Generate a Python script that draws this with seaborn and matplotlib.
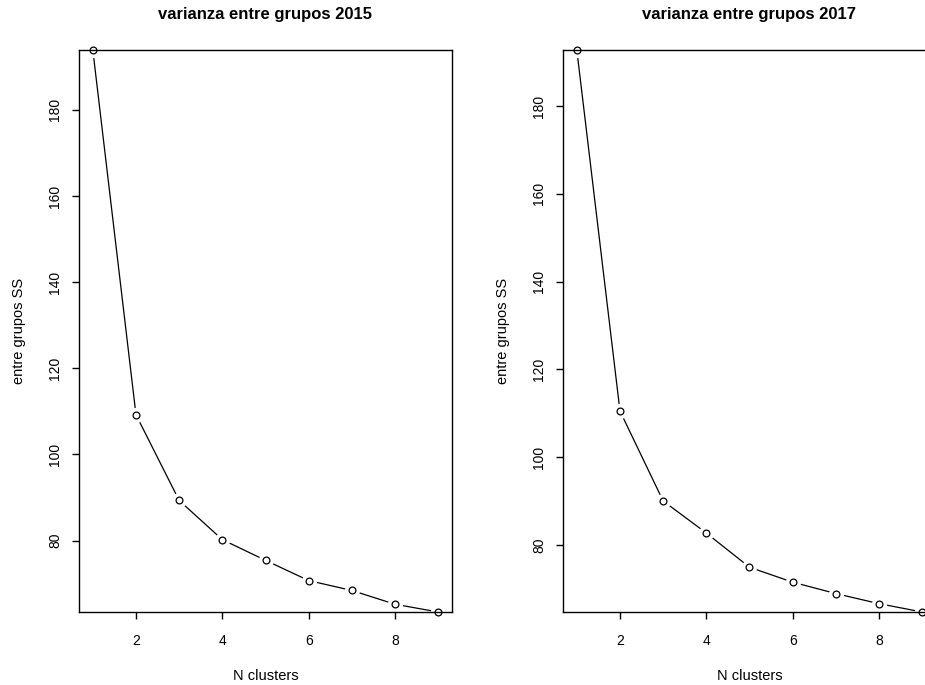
import matplotlib

matplotlib.use("Agg")

import matplotlib.pyplot as plt
import numpy as np
import pandas as pd
import seaborn as sns

# elbow data
n_clusters = [1, 2, 3, 4, 5, 6, 7, 8, 9]
ss_2015 = [193.9, 109.2, 89.3, 80.2, 75.4, 70.7, 68.4, 65.2, 63.4]
ss_2017 = [192.8, 110.5, 90.0, 82.7, 74.9, 71.5, 68.9, 66.6, 64.7]
titles = ["varianza entre grupos 2015", "varianza entre grupos 2017"]
x_ticks = [2, 4, 6, 8]
y_ticks = [80, 100, 120, 140, 160, 180]

W, H = 925, 685


def set_theme() -> None:
    sns.set_theme(style="ticks")
    plt.rcParams.update(
        {
            "font.family": ["Liberation Sans", "DejaVu Sans"],
            "axes.edgecolor": "black",
            "axes.linewidth": 1.0,
            "xtick.color": "black",
            "ytick.color": "black",
            "xtick.major.size": 5,
            "ytick.major.size": 5,
            "xtick.major.width": 1.0,
            "ytick.major.width": 1.0,
            "xtick.labelsize": 10,
            "ytick.labelsize": 10,
            "text.color": "black",
            "axes.labelcolor": "black",
        }
    )


def panel(fig, left_px: float, values: list, title: str) -> None:
    x0 = left_px / W
    ax = fig.add_axes([x0, (H - 612) / H, 373 / W, 562 / H])
    df = pd.DataFrame({"k": n_clusters, "ss": values})
    sns.lineplot(data=df, x="k", y="ss", ax=ax, color="black", linewidth=0.9, zorder=2)
    # white halo gives the R "type = b" gaps around each point
    ax.plot(df["k"], df["ss"], "o", ms=10, mfc="white", mec="white", zorder=3, clip_on=False)
    sns.scatterplot(data=df, x="k", y="ss", ax=ax, s=24, facecolor="white",
                    edgecolor="black", linewidth=0.9, zorder=4, clip_on=False)
    span = max(n_clusters) - min(n_clusters)
    ax.set_xlim(min(n_clusters) - 0.04 * span, max(n_clusters) + 0.04 * span)
    ax.set_ylim(min(values), max(values))
    ax.set_xticks(x_ticks)
    ax.set_yticks(y_ticks)
    ax.tick_params(axis="x", pad=11)
    ax.tick_params(axis="y", pad=7)
    plt.setp(ax.get_yticklabels(), rotation=90, va="center")
    for s in ax.spines.values():
        s.set_visible(True)
        s.set_zorder(5)
    ax.set_xlabel("N clusters", fontsize=10.5)
    ax.set_ylabel("entre grupos SS", fontsize=10.5)
    ax.xaxis.set_label_coords(0.5, (612 - 676) / 562)
    ax.xaxis.label.set_va("center")
    ax.yaxis.set_label_coords(-0.162, 0.5)
    ax.yaxis.label.set_va("center")
    cx = (left_px + 373 / 2) / W
    fig.text(cx, 1 - 15 / H, title, fontsize=12, fontweight="bold", ha="center", va="center")


def main() -> None:
    set_theme()
    fig = plt.figure(figsize=(W / 100, H / 100), dpi=100)
    fig.patch.set_facecolor("white")
    panel(fig, 79, ss_2015, titles[0])
    panel(fig, 563, ss_2017, titles[1])
    fig.savefig("out.png", dpi=100, facecolor="white")


if __name__ == "__main__":
    main()
